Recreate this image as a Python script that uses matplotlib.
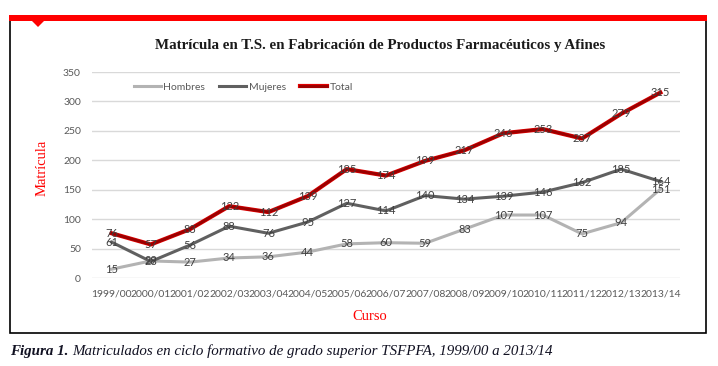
import matplotlib
matplotlib.use('Agg')
import matplotlib.pyplot as plt
import matplotlib.patheffects as pe
from matplotlib.patches import Rectangle, Polygon

cursos = ['1999/00', '2000/01', '2001/02', '2002/03', '2003/04', '2004/05',
          '2005/06', '2006/07', '2007/08', '2008/09', '2009/10', '2010/11',
          '2011/12', '2012/13', '2013/14']
hombres = [15, 29, 27, 34, 36, 44, 58, 60, 59, 83, 107, 107, 75, 94, 151]
mujeres = [61, 28, 56, 88, 76, 95, 127, 114, 140, 134, 139, 146, 162, 185, 164]
total = [76, 57, 83, 122, 112, 139, 185, 174, 199, 217, 246, 253, 237, 279, 315]
yticks = [0, 50, 100, 150, 200, 250, 300, 350]

W, H = 718, 366
fig = plt.figure(figsize=(W / 100, H / 100), dpi=100)

# marco y barra roja superior
fig.patches.append(Rectangle((10 / W, 1 - 333 / H), 696 / W, 315 / H,
                             transform=fig.transFigure, fill=False,
                             edgecolor='black', linewidth=1.2))
fig.patches.append(Rectangle((9 / W, 1 - 21 / H), 698 / W, 6 / H,
                             transform=fig.transFigure, facecolor='#ff0000',
                             edgecolor='none'))
fig.patches.append(Polygon([(32 / W, 1 - 21 / H), (44 / W, 1 - 21 / H),
                            (38 / W, 1 - 27 / H)], closed=True,
                           transform=fig.transFigure, facecolor='#ff0000',
                           edgecolor='none'))

ax = fig.add_axes([92 / W, 1 - 278 / H, 588 / W, 206 / H])
x = list(range(len(cursos)))

ax.plot(x, hombres, color='#b3b3b3', linewidth=2.2, label='Hombres', zorder=3)
ax.plot(x, mujeres, color='#606060', linewidth=2.2, label='Mujeres', zorder=3)
ax.plot(x, total, color='#9a0000', linewidth=2.0, label='Total', zorder=4,
        path_effects=[pe.Stroke(linewidth=3.0, foreground='#e00000'), pe.Normal()])

lab = dict(fontsize=8, color='#404040', ha='center', va='center',
           family='Lato', zorder=5)
for i in x:
    ax.text(i, hombres[i], str(hombres[i]), **lab)
    ax.text(i, mujeres[i], str(mujeres[i]), **lab)
    ax.text(i, total[i], str(total[i]), **lab)

ax.set_xlim(-0.5, len(cursos) - 0.5)
ax.set_ylim(0, 350)
ax.set_yticks(yticks)
ax.set_xticks(x)
ax.set_xticklabels(cursos)
ax.tick_params(length=0, labelsize=7.5, labelcolor='#595959', pad=8)
for t in ax.get_xticklabels() + ax.get_yticklabels():
    t.set_family('Lato')
ax.grid(axis='y', color='#d9d9d9', linewidth=1)
ax.set_axisbelow(True)
for s in ax.spines.values():
    s.set_visible(False)

leg = ax.legend(loc='upper left', bbox_to_anchor=(0.055, 0.995), ncol=3,
                frameon=False, fontsize=7.5, handlelength=2.6,
                columnspacing=1.4, handletextpad=0.2)
for t in leg.get_texts():
    t.set_color('#595959')
    t.set_family('Lato')

fig.text(380 / W, 1 - 46 / H,
         'Matrícula en T.S. en Fabricación de Productos Farmacéuticos y Afines',
         ha='center', va='center', fontsize=10.8, fontweight='bold',
         family='Liberation Serif', color='#1a1a1a')
fig.text(42 / W, 1 - 168 / H, 'Matrícula', rotation=90, ha='center',
         va='center', fontsize=10.5, family='Liberation Serif', color='#ff0000')
fig.text(370 / W, 1 - 316 / H, 'Curso', ha='center', va='center',
         fontsize=10.5, family='Liberation Serif', color='#ff0000')

fig1 = fig.text(10 / W, 1 - 351 / H, 'Figura 1.', ha='left', va='center',
                fontsize=10.8, fontweight='bold', style='italic',
                family='Liberation Serif', color='#111122')
fig.canvas.draw()
bb = fig1.get_window_extent()
fig.text((bb.x1 + 4) / W, 1 - 351 / H,
         'Matriculados en ciclo formativo de grado superior TSFPFA, 1999/00 a 2013/14',
         ha='left', va='center', fontsize=10.8, style='italic',
         family='Liberation Serif', color='#111122')

fig.savefig('out.png', dpi=100)
